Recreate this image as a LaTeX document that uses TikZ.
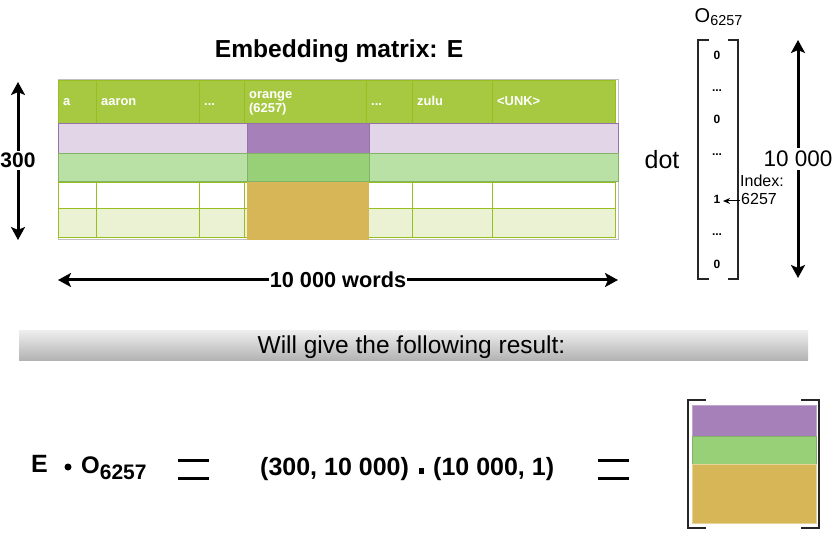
\documentclass[tikz,border=0pt]{standalone}
\usepackage{fontspec}
\setmainfont{Liberation Sans}
\usetikzlibrary{arrows.meta}
\definecolor{hdr}{HTML}{A7C942}
\definecolor{hdrb}{HTML}{98BF21}
\definecolor{alt}{HTML}{EAF2D3}
\definecolor{purL}{HTML}{E1D5E7}
\definecolor{purD}{HTML}{A680B8}
\definecolor{purB}{HTML}{9673A6}
\definecolor{grnL}{HTML}{B9E0A5}
\definecolor{grnD}{HTML}{97D077}
\definecolor{grnB}{HTML}{82B366}
\definecolor{org}{HTML}{D6B656}
\newcommand{\fsz}[1]{\fontsize{#1}{#1}\selectfont}
\begin{document}
\begin{tikzpicture}[x=1pt,y=-1pt,
  hdrtxt/.style={anchor=base west,inner sep=0pt,text=white,font=\fsz{12.9}\bfseries},
  vecent/.style={anchor=base,inner sep=0pt,font=\fsz{12}\bfseries},
  bigarr/.style={line width=3pt,{Stealth[length=13pt,width=14pt,inset=3pt]}-{Stealth[length=13pt,width=14pt,inset=3pt]}},
  brk/.style={line width=2pt,draw=black!85},
  eqbar/.style={fill=black},
  cellhdr/.style={fill=hdr,draw=hdrb,line width=0.8pt},
  cellw/.style={fill=white,draw=hdrb,line width=0.8pt},
  cella/.style={fill=alt,draw=hdrb,line width=0.8pt}]
\useasboundingbox (0,0) rectangle (832,534);

% title
\node[anchor=base,inner sep=0pt,font=\fsz{24.6}\bfseries] (title) at (339,58) {Embedding matrix: E};

% table
\draw[black!25,line width=1pt] (58,80) rectangle (618,240);
\foreach \a/\b in {58/96,96/199,199/244,244/366,366/412,412/492,492/615}{
  \draw[cellhdr] (\a,80) rectangle (\b,123);
  \draw[cellw] (\a,182) rectangle (\b,208);
  \draw[cella] (\a,208) rectangle (\b,237);
}
\draw[fill=purL,draw=purB,line width=1pt] (58,124) rectangle (618,154);
\draw[fill=purD,draw=purB,line width=1pt] (247,124) rectangle (369,154);
\draw[fill=grnL,draw=grnB,line width=1pt] (58,154) rectangle (618,182);
\draw[fill=grnD,draw=grnB,line width=1pt] (247,154) rectangle (369,182);
\fill[org] (247,182) rectangle (369,240);

\node[hdrtxt] (ha) at (63,106) {a};
\node[hdrtxt] (haaron) at (101,106) {aaron};
\node[hdrtxt] (hd1) at (204,106) {...};
\node[hdrtxt] (horange) at (249,99) {orange};
\node[hdrtxt] (hidx) at (249,113) {(6257)};
\node[hdrtxt] (hd2) at (371,106) {...};
\node[hdrtxt] (hzulu) at (417,106) {zulu};
\node[hdrtxt] (hunk) at (497,106) {<UNK>};

% left arrow 300
\coordinate (lt) at (18,82);
\coordinate (lb) at (18,240);
\draw[bigarr] (lt) -- (lb);
\node[fill=white,inner sep=2pt,font=\fsz{21}\bfseries] (n300) at (18,160.5) {300};

% bottom arrow
\coordinate (bl) at (58,280);
\coordinate (br) at (618,280);
\draw[bigarr] (bl) -- (br);
\node[fill=white,inner xsep=1pt,inner ysep=2pt,font=\fsz{21.7}\bfseries] (nwords) at (338,280) {10 000 words};

% one-hot vector
\node[anchor=base west,inner sep=0pt,font=\fsz{20}] (otop) at (694.5,23) {O\raisebox{-3pt}{\fsz{14.4}6257}};
\draw[brk] (709,40) -- (698,40) -- (698,279) -- (709,279);
\draw[brk] (728,40) -- (738,40) -- (738,279) -- (728,279);
\node[vecent] (v1) at (717,59.5) {0};
\node[vecent] (v2) at (717,92) {...};
\node[vecent] (v3) at (717,124) {0};
\node[vecent] (v4) at (717,156) {...};
\node[vecent] (v5) at (717,204) {1};
\node[vecent] (v6) at (717,236) {...};
\node[vecent] (v7) at (717,268.5) {0};
\node[anchor=base west,inner sep=0pt,font=\fsz{16}] (index) at (740,187) {Index:};
\node[anchor=base west,inner sep=0pt,font=\fsz{16}] (index2) at (741,205) {6257};
\coordinate (ia) at ([yshift=4pt,xshift=-1pt]index2.base west);
\coordinate (ib) at ([xshift=2.5pt]v5.east |- ia);
\draw[line width=1pt,-{Stealth[length=7pt,width=6pt]}] (ia) -- (ib);
\node[anchor=base,inner sep=0pt,font=\fsz{25}] (dot) at (662,169) {dot};
\coordinate (rt) at (798,40);
\coordinate (rb) at (798,278);
\draw[bigarr] (rt) -- (rb);
\node[fill=white,inner xsep=0pt,inner ysep=3pt,font=\fsz{22.5}] (n10k) at (798,159) {10 000};

% banner
\shade[top color=black!7,bottom color=black!30] (19,331) rectangle (808,360);
\node[anchor=base,inner sep=0pt,font=\fsz{24.5}] (banner) at (411.5,353) {Will give the following result:};

% bottom equation
\node[anchor=base west,inner sep=0pt,font=\fsz{25}\bfseries] (E) at (31,472) {E};
\node[circle,fill=black,inner sep=0pt,minimum size=7pt] (bul) at (68,467) {};
\node[anchor=base west,inner sep=0pt,font=\fsz{24}\bfseries] (O) at (81,473) {O\raisebox{-6pt}{\fsz{21}6257}};
\fill[eqbar] (178,459) rectangle (209,462);
\fill[eqbar] (178,477) rectangle (209,480);
\node[anchor=base west,inner sep=0pt,font=\fsz{25}\bfseries] (s1) at (260,475) {(300, 10 000)};
\fill (419,468) rectangle (424,474);
\node[anchor=base west,inner sep=0pt,font=\fsz{25}\bfseries] (s2) at (433,475) {(10 000, 1)};
\fill[eqbar] (598,459) rectangle (629,462);
\fill[eqbar] (598,477) rectangle (629,480);

% result vector
\draw[brk] (706,400) -- (688,400) -- (688,528) -- (706,528);
\draw[brk] (801,400) -- (819,400) -- (819,528) -- (801,528);
\draw[fill=purD,draw=purD!70!white,line width=0.8pt] (692,405) rectangle (816,436);
\draw[fill=grnD,draw=grnD!80!black!90,line width=0.8pt] (692,436) rectangle (816,464);
\draw[fill=org,draw=org!60!white,line width=0.8pt] (692,464) rectangle (816,523);
\end{tikzpicture}
\end{document}
